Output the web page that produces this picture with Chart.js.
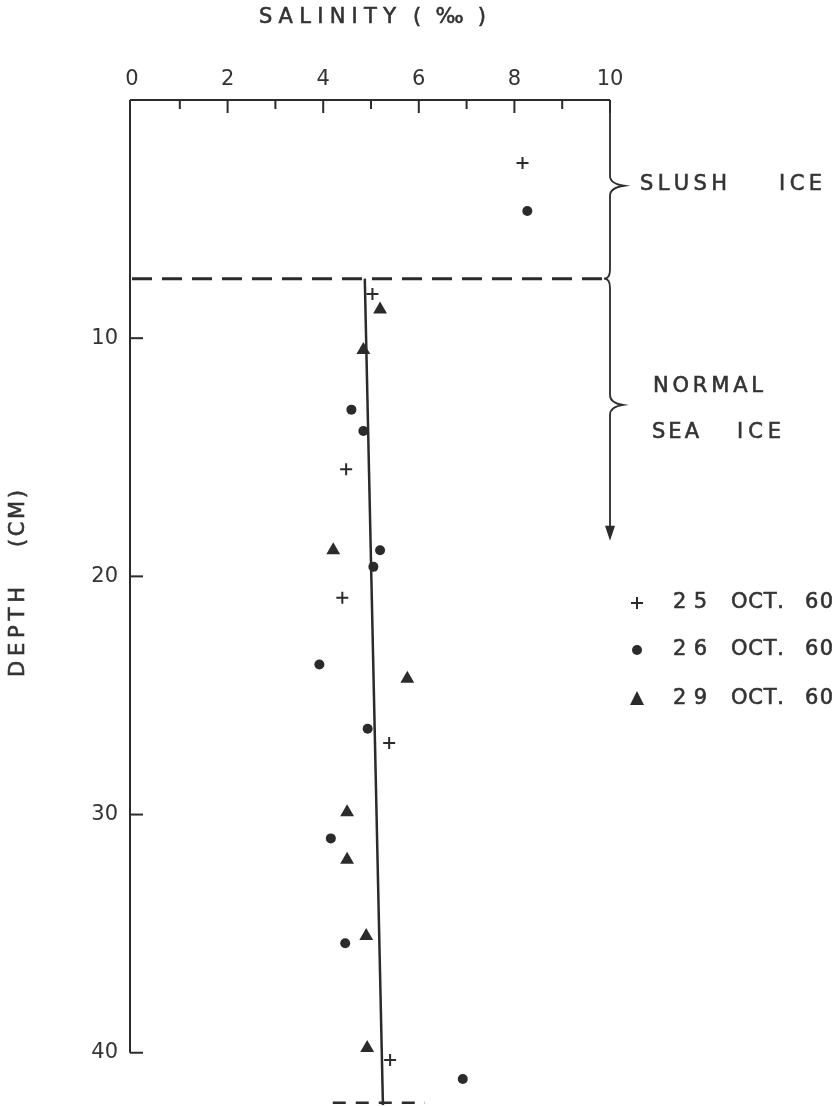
<!DOCTYPE html>
<html><head><meta charset="utf-8">
<script src="https://cdn.jsdelivr.net/npm/chart.js@4/dist/chart.umd.min.js"></script>
<style>html,body{margin:0;padding:0;background:#fff}#wrap{width:840px;height:1106px;position:relative}</style>
</head><body><div id="wrap"><canvas id="c" width="840" height="1106"></canvas></div>
<script>
// ---- data (salinity ‰, depth cm) ----
const xTickValues = [0, 2, 4, 6, 8, 10];
const yTickValues = [10, 20, 30, 40];
const oct25Salinity = [8.17, 5.03, 4.48, 4.40, 5.38, 5.40];
const oct25Depth    = [2.65, 8.15, 15.5, 20.9, 27.0, 40.3];
const oct26Salinity = [8.27, 4.59, 4.84, 5.19, 5.05, 3.92, 4.93, 4.16, 4.46, 6.92];
const oct26Depth    = [4.66, 13.0, 13.9, 18.9, 19.6, 23.7, 26.4, 31.0, 35.4, 41.1];
const oct29Salinity = [5.19, 4.84, 4.21, 5.76, 4.50, 4.50, 4.90, 4.92];
const oct29Depth    = [8.8, 10.5, 18.9, 24.3, 29.9, 31.9, 35.1, 39.8];
const trendSalinity = [4.87, 5.25];
const trendDepth    = [7.5, 42.2];
const boundarySalinity = [0, 10];
const boundaryDepth    = [7.5, 7.5];
const bottomSalinity = [4.2, 6.13];
const bottomDepth    = [42.1, 42.1];
const legendLabels = ['25 OCT. 60', '26 OCT. 60', '29 OCT. 60'];
const zoneLabels = ['SLUSH ICE', 'NORMAL SEA ICE'];
const xTitle = ['SALINITY', '(‰)'];
const yTitle = ['DEPTH', '(CM)'];

const INK = '#2b2b2b';
const TXT = '#333333';
const FONT = '"DejaVu Sans", "Liberation Sans", sans-serif';

function pts(xs, ys) { return xs.map((x, i) => ({x: x, y: ys[i]})); }

function spaced(ctx, text, x, y, w) {
  const chars = [...text];
  let sum = 0;
  const ws = chars.map(c => { const m = ctx.measureText(c).width; sum += m; return m; });
  const gap = chars.length > 1 ? (w - sum) / (chars.length - 1) : 0;
  let cx = x;
  chars.forEach((c, i) => { ctx.fillText(c, cx, y); ctx.strokeText(c, cx, y); cx += ws[i] + gap; });
}

const decor = {
  id: 'decor',
  beforeDatasetsDraw(chart) {
    const ctx = chart.ctx, xs = chart.scales.x, ys = chart.scales.y;
    const X = v => xs.getPixelForValue(v), Y = v => ys.getPixelForValue(v);
    ctx.save();
    ctx.strokeStyle = INK; ctx.lineWidth = 2; ctx.lineCap = 'butt';
    // top axis line
    ctx.beginPath(); ctx.moveTo(X(0) - 2, Y(0)); ctx.lineTo(X(10), Y(0)); ctx.stroke();
    // top ticks
    for (let v = 1; v <= 10; v++) {
      const len = v % 2 === 0 ? 13 : 9;
      ctx.beginPath(); ctx.moveTo(X(v), Y(0)); ctx.lineTo(X(v), Y(0) + len); ctx.stroke();
    }
    // left spine and ticks
    ctx.beginPath(); ctx.moveTo(X(0) - 2, Y(0)); ctx.lineTo(X(0) - 2, Y(40)); ctx.stroke();
    yTickValues.forEach(v => {
      ctx.beginPath(); ctx.moveTo(X(0) - 2, Y(v)); ctx.lineTo(X(0) + 11, Y(v)); ctx.stroke();
    });
    // braces on right
    const R = X(10);
    const yS = Y(3.6), yB = Y(7.5), yN = Y(12.8), yA = Y(18.5);
    ctx.lineWidth = 1.8;
    ctx.beginPath();
    ctx.moveTo(R, Y(0));
    ctx.lineTo(R, yS - 10);
    ctx.quadraticCurveTo(R, yS - 2, R + 14, yS);
    ctx.quadraticCurveTo(R, yS + 2, R, yS + 10);
    ctx.lineTo(R, yB - 9);
    ctx.quadraticCurveTo(R, yB, R - 6, yB);
    ctx.quadraticCurveTo(R, yB, R, yB + 9);
    ctx.lineTo(R, yN - 10);
    ctx.quadraticCurveTo(R, yN - 2, R + 13, yN);
    ctx.quadraticCurveTo(R, yN + 2, R, yN + 10);
    ctx.lineTo(R, yA - 12);
    ctx.stroke();
    // arrow head
    ctx.fillStyle = INK;
    ctx.beginPath(); ctx.moveTo(R - 5, yA - 15); ctx.lineTo(R + 5, yA - 15); ctx.lineTo(R, yA); ctx.closePath(); ctx.fill();
    ctx.restore();
  },
  afterDraw(chart) {
    const ctx = chart.ctx;
    ctx.save();
    ctx.fillStyle = TXT; ctx.strokeStyle = TXT; ctx.lineWidth = 0.6;
    ctx.textBaseline = 'middle';
    ctx.font = '21px ' + FONT;
    // axis titles
    spaced(ctx, xTitle[0], 259, 18, 137);
    spaced(ctx, xTitle[1], 413, 18, 73);
    ctx.save();
    ctx.translate(19, 677); ctx.rotate(-Math.PI / 2);
    spaced(ctx, yTitle[0], 0, 0, 90);
    spaced(ctx, yTitle[1], 130, 0, 57);
    ctx.restore();
    // zone labels
    const z1 = zoneLabels[0].split(' ');
    spaced(ctx, z1[0], 640, 185, 87);
    spaced(ctx, z1[1], 779, 185, 43);
    const z2 = zoneLabels[1].split(' ');
    spaced(ctx, z2[0], 653, 387, 110);
    spaced(ctx, z2[1], 652, 433, 47);
    spaced(ctx, z2[2], 737, 433, 44);
    // legend
    const rows = [603, 650, 699];
    legendLabels.forEach((lab, i) => {
      const y = rows[i], parts = lab.split(' ');
      ctx.fillStyle = TXT; ctx.strokeStyle = TXT; ctx.lineWidth = 0.6;
      spaced(ctx, parts[0], 673, y, 34);
      spaced(ctx, parts[1], 731, y, 53);
      spaced(ctx, parts[2], 805, y, 28);
      ctx.fillStyle = INK; ctx.strokeStyle = INK; ctx.lineWidth = 2;
      const sx = 637;
      if (i === 0) {
        ctx.beginPath(); ctx.moveTo(sx - 6, y); ctx.lineTo(sx + 6, y); ctx.moveTo(sx, y - 6); ctx.lineTo(sx, y + 6); ctx.stroke();
      } else if (i === 1) {
        ctx.beginPath(); ctx.arc(sx, y, 5, 0, Math.PI * 2); ctx.fill();
      } else {
        ctx.beginPath(); ctx.moveTo(sx, y - 8); ctx.lineTo(sx + 7, y + 6); ctx.lineTo(sx - 7, y + 6); ctx.closePath(); ctx.fill();
      }
    });
    ctx.restore();
  }
};

new Chart(document.getElementById('c'), {
  type: 'scatter',
  data: {
    datasets: [
      {label: 'trend', data: pts(trendSalinity, trendDepth), showLine: true, pointRadius: 0, borderColor: INK, borderWidth: 2.5, clip: false},
      {label: 'boundary', data: pts(boundarySalinity, boundaryDepth), showLine: true, pointRadius: 0, borderColor: INK, borderWidth: 3, borderDash: [20, 10], clip: false},
      {label: 'bottom', data: pts(bottomSalinity, bottomDepth), showLine: true, pointRadius: 0, borderColor: INK, borderWidth: 2.5, borderDash: [13, 10], clip: false},
      {label: legendLabels[0], data: pts(oct25Salinity, oct25Depth), pointStyle: 'cross', pointRadius: 6, borderWidth: 2, borderColor: INK, backgroundColor: INK, clip: false},
      {label: legendLabels[1], data: pts(oct26Salinity, oct26Depth), pointStyle: 'circle', pointRadius: 5, borderWidth: 0, borderColor: INK, backgroundColor: INK, clip: false},
      {label: legendLabels[2], data: pts(oct29Salinity, oct29Depth), pointStyle: 'triangle', pointRadius: 8, borderWidth: 0, borderColor: INK, backgroundColor: INK, clip: false}
    ]
  },
  options: {
    responsive: false,
    animation: false,
    devicePixelRatio: 1,
    layout: {padding: {left: 0, right: 230, top: 0, bottom: 1.6}},
    plugins: {legend: {display: false}, tooltip: {enabled: false}},
    scales: {
      x: {
        type: 'linear', position: 'top', min: 0, max: 10,
        grid: {display: false}, border: {display: false},
        ticks: {stepSize: 2, color: TXT, font: {family: FONT, size: 21}, padding: 0, maxRotation: 0},
        afterFit(s) { s.height = 100; s.paddingLeft = 0; s.paddingRight = 0; }
      },
      y: {
        type: 'linear', reverse: true, min: 0, max: 41.9,
        grid: {display: false}, border: {display: false},
        ticks: {stepSize: 10, includeBounds: false, color: TXT, font: {family: FONT, size: 21}, padding: 6,
                callback: v => (yTickValues.includes(v) ? String(v) : '')},
        afterFit(s) { s.width = 132; s.paddingTop = 0; s.paddingBottom = 0; }
      }
    }
  },
  plugins: [decor]
});
</script>
</body></html>
